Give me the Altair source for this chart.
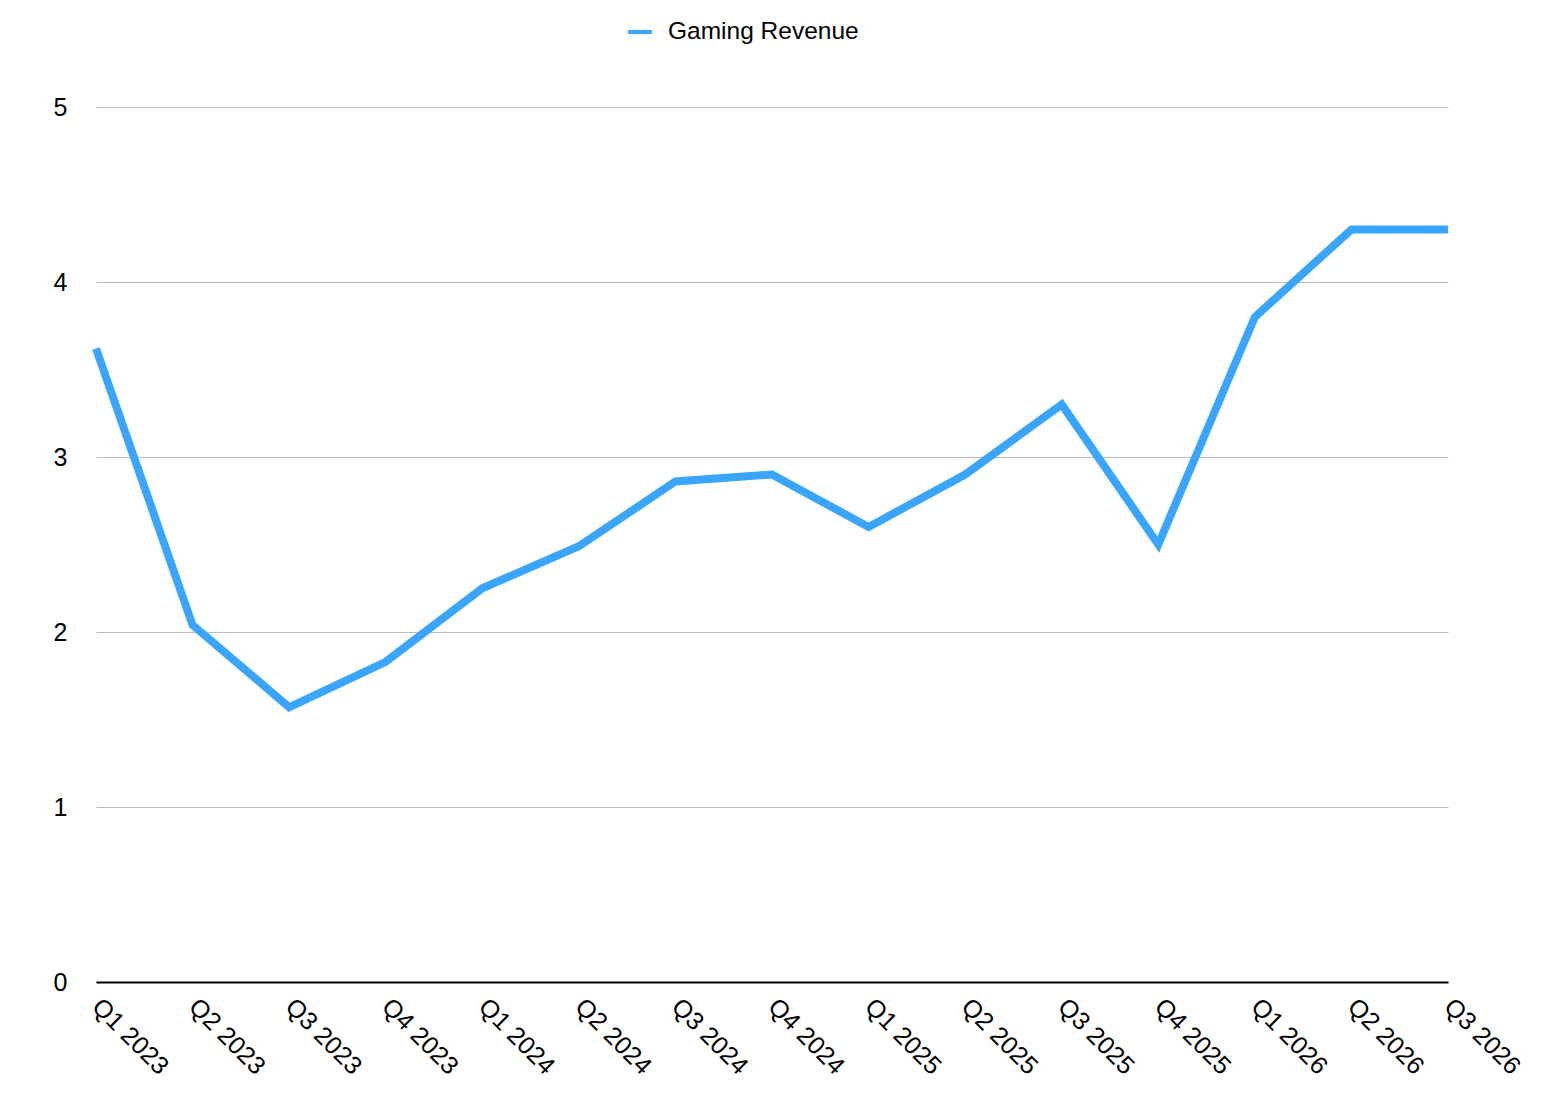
import altair as alt
import pandas as pd

quarters = ["Q1 2023", "Q2 2023", "Q3 2023", "Q4 2023",
            "Q1 2024", "Q2 2024", "Q3 2024", "Q4 2024",
            "Q1 2025", "Q2 2025", "Q3 2025", "Q4 2025",
            "Q1 2026", "Q2 2026", "Q3 2026"]
revenue = [3.62, 2.04, 1.57, 1.83, 2.25, 2.49, 2.86, 2.90,
           2.60, 2.90, 3.30, 2.50, 3.80, 4.30, 4.30]
series_name = "Gaming Revenue"
y_ticks = [0, 1, 2, 3, 4, 5]

df = pd.DataFrame({
    "quarter": quarters,
    "revenue": revenue,
    "series": [series_name] * len(quarters),
})

FONT = "Liberation Sans"

chart = alt.Chart(df).mark_line(
    strokeWidth=8, strokeCap="butt", strokeJoin="miter"
).encode(
    x=alt.X(
        "quarter:N", sort=quarters,
        scale=alt.Scale(type="point", padding=0),
        axis=alt.Axis(
            title=None, labelAngle=45, labelAlign="left", labelBaseline="middle",
            labelPadding=20, ticks=False, grid=False, domainColor="black",
            domainWidth=2, labelFontSize=25, labelColor="black", labelFont=FONT,
            labelFlush=False, labelOverlap=False, labelLimit=0, zindex=1,
        ),
    ),
    y=alt.Y(
        "revenue:Q",
        scale=alt.Scale(domain=[0, 5], nice=False),
        axis=alt.Axis(
            title=None, values=y_ticks, domain=False, ticks=False,
            gridColor="#BDBDBD", gridWidth=1, labelPadding=29,
            labelFontSize=25, labelColor="black", labelFont=FONT,
        ),
    ),
    color=alt.Color(
        "series:N",
        scale=alt.Scale(range=["#3AA5FF"]),
        legend=alt.Legend(
            title=None, orient="none", legendX=530, legendY=-89,
            symbolType="stroke", symbolStrokeWidth=4, symbolSize=576,
            labelFontSize=24.5, labelFont=FONT, labelColor="black",
            labelOffset=14, labelLimit=0,
        ),
    ),
).properties(
    width=1352, height=875,
    autosize=alt.AutoSizeParams(type="none"),
    padding={"left": 88, "top": 99, "right": 106, "bottom": 120},
).configure_view(stroke=None)

chart.save("out.html", embed_options={"renderer": "svg", "actions": False})
